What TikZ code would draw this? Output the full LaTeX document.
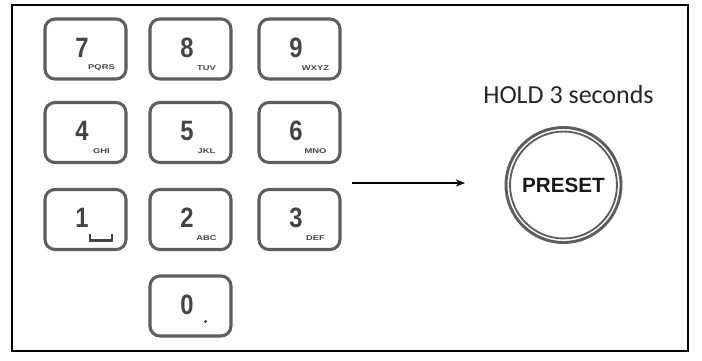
\documentclass[tikz,border=0pt]{standalone}
\usepackage{fontspec}
\usepackage{graphicx}
\setmainfont{Liberation Sans}
\newfontfamily\calib{Carlito}
\usetikzlibrary{arrows.meta}
\definecolor{keygray}{HTML}{5E5E5E}
\definecolor{digitgray}{HTML}{444444}
\tikzset{
  keybox/.style={draw=keygray, line width=2.3pt, rounded corners=7.5pt, minimum width=60.75pt, minimum height=45pt, inner sep=0pt},
  digit/.style={text=digitgray, font=\fontsize{21}{21}\selectfont\bfseries, inner sep=0pt},
  sublabel/.style={text=digitgray, font=\fontsize{5.2}{5.5}\selectfont\bfseries, inner sep=0pt},
}
\newcommand{\dg}[1]{\scalebox{0.85}[1]{#1}}
\begin{document}
\begin{tikzpicture}[x=0.75pt, y=-0.75pt]
\useasboundingbox (0,0) rectangle (702,360);
\fill[white] (0,0) rectangle (702,360);
\draw[black, line width=1.1pt] (12,5) rectangle (688,351);

% keys
\foreach \nm/\cx/\cy/\d/\s in {
  k7/85.5/49/7/PQRS, k8/190.5/49/8/TUV, k9/299.5/49/9/WXYZ,
  k4/85.5/132.5/4/GHI, k5/190.5/132.5/5/JKL, k6/299.5/132.5/6/MNO,
  k2/190.5/219.5/2/ABC, k3/299.5/219.5/3/DEF}{
  \node[keybox] (\nm) at (\cx,\cy) {};
  \node[digit] (\nm d) at (\cx-3.5,\cy-1.5) {\dg{\d}};
  \node[sublabel] (\nm s) at (\cx+16,\cy+19) {\scalebox{1.35}[1]{\s}};
}
% key 1
\node[keybox] (k1) at (85.5,219.5) {};
\node[digit] (k1d) at (82,218) {\dg{1}};
\draw[digitgray, line width=1.6pt] (90,234) -- (90,240.5) -- (112,240.5) -- (112,234);
% key 0
\node[keybox] (k0) at (190.5,306) {};
\node[digit] (k0d) at (187,304.5) {\dg{0}};
\fill[digitgray] (205.5,321.5) circle (1.3pt);

% arrow
\coordinate (as) at (352,183);
\coordinate (ae) at (465,183);
\draw[black, line width=0.9pt, -{Stealth[length=7pt,width=5.5pt]}] (as) -- (ae);

% preset button
\node[circle, draw=keygray, line width=2.2pt, minimum size=86.25pt, inner sep=0pt] (preset) at (563.5,185) {};
\draw[keygray, line width=1.4pt] (preset.center) circle (40.1pt);
\node[font=\fontsize{15.5}{16}\selectfont\bfseries, text=black!90] (ptext) at (preset.center) {PRESET};
\node[font=\calib\fontsize{19.5}{20}\selectfont, text=black!85, anchor=base] (hold) at (568.5,103) {HOLD 3 seconds};
\end{tikzpicture}
\end{document}
